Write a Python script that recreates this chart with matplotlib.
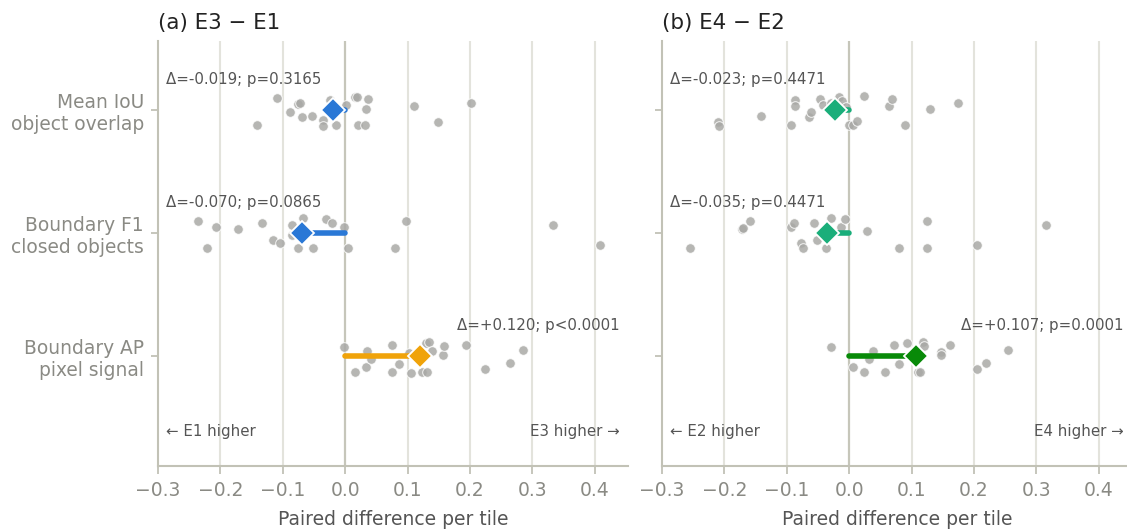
import matplotlib
matplotlib.use("Agg")
import matplotlib.pyplot as plt
import numpy as np

metrics = ["Mean IoU\nobject overlap", "Boundary F1\nclosed objects", "Boundary AP\npixel signal"]
xticks = [-0.3, -0.2, -0.1, 0.0, 0.1, 0.2, 0.3, 0.4]

# Panel (a) E3 - E1 : per-tile differences and vertical jitter offsets
a_iou = [-0.109, -0.141, -0.088, -0.076, -0.073, -0.070, -0.053, -0.035, -0.036, -0.024, -0.014,
         0.001, 0.016, 0.019, 0.037, 0.033, 0.021, 0.032, 0.111, 0.149, 0.201]
a_iou_j = [-0.095, 0.122, 0.016, -0.049, -0.057, 0.057, 0.049, 0.081, 0.130, -0.081, 0.122,
           -0.041, -0.106, -0.106, -0.089, -0.008, 0.122, 0.122, -0.033, 0.098, -0.057]
a_f1 = [-0.236, -0.221, -0.207, -0.171, -0.133, -0.115, -0.105, -0.086, -0.085, -0.076, -0.068,
        -0.051, -0.031, -0.021, -0.002, 0.004, 0.080, 0.097, 0.333, 0.408]
a_f1_j = [-0.098, 0.122, -0.049, -0.033, -0.084, 0.054, 0.081, -0.065, 0.016, 0.120, -0.122,
          0.122, -0.114, -0.084, -0.049, 0.120, 0.122, -0.098, -0.065, 0.095]
a_ap = [-0.002, 0.016, 0.034, 0.035, 0.041, 0.075, 0.075, 0.087, 0.102, 0.105, 0.123, 0.131,
        0.129, 0.135, 0.139, 0.156, 0.159, 0.194, 0.224, 0.264, 0.285]
a_ap_j = [-0.077, 0.126, 0.091, -0.037, 0.028, -0.088, 0.128, 0.063, -0.026, 0.134, 0.126, 0.126,
          -0.102, -0.112, -0.039, -0.007, -0.080, -0.088, 0.104, 0.055, -0.053]
a_delta = [-0.019, -0.070, 0.120]
a_labels = ["Δ=-0.019; p=0.3165", "Δ=-0.070; p=0.0865", "Δ=+0.120; p<0.0001"]

# Panel (b) E4 - E2
b_iou = [-0.211, -0.208, -0.141, -0.094, -0.087, -0.087, -0.064, -0.062, -0.047, -0.042, -0.029,
         -0.016, -0.012, -0.005, 0.000, 0.006, 0.012, 0.023, 0.064, 0.068, 0.090, 0.129, 0.175]
b_iou_j = [0.098, 0.130, 0.051, 0.124, -0.081, -0.035, 0.059, 0.019, -0.092, -0.041, -0.059,
           -0.106, -0.076, -0.027, 0.122, 0.122, 0.087, -0.111, -0.035, -0.092, 0.122, -0.008, -0.059]
b_f1 = [-0.255, -0.172, -0.170, -0.159, -0.094, -0.088, -0.078, -0.074, -0.057, -0.052, -0.037,
        -0.029, -0.033, -0.013, -0.007, 0.029, 0.080, 0.124, 0.125, 0.205, 0.316]
b_f1_j = [0.124, -0.033, -0.041, -0.098, -0.049, -0.084, 0.081, 0.122, -0.084, 0.054, 0.120,
          -0.120, 0.022, -0.046, -0.111, -0.014, 0.120, 0.122, -0.098, 0.095, -0.063]
b_ap = [-0.029, 0.006, 0.024, 0.031, 0.038, 0.058, 0.072, 0.079, 0.092, 0.111, 0.114, 0.119,
        0.120, 0.147, 0.147, 0.162, 0.204, 0.220, 0.255]
b_ap_j = [-0.077, 0.091, 0.126, 0.028, -0.037, 0.128, -0.088, 0.063, -0.102, 0.128, 0.126, -0.112,
          -0.083, -0.034, -0.007, -0.088, 0.104, 0.055, -0.053]
b_delta = [-0.023, -0.035, 0.107]
b_labels = ["Δ=-0.023; p=0.4471", "Δ=-0.035; p=0.4471", "Δ=+0.107; p=0.0001"]

a_colors = ["#2a78d6", "#2a78d6", "#f0a30a"]
b_colors = ["#1aae7a", "#1aae7a", "#088a08"]

panels = [
    dict(title="(a) E3 − E1", vals=[a_iou, a_f1, a_ap], jit=[a_iou_j, a_f1_j, a_ap_j],
         delta=a_delta, labels=a_labels, colors=a_colors, lo="← E1 higher", hi="E3 higher →"),
    dict(title="(b) E4 − E2", vals=[b_iou, b_f1, b_ap], jit=[b_iou_j, b_f1_j, b_ap_j],
         delta=b_delta, labels=b_labels, colors=b_colors, lo="← E2 higher", hi="E4 higher →"),
]

W, H = 1127, 529
fig = plt.figure(figsize=(W / 100, H / 100), dpi=100)
plt.rcParams['font.family'] = ['DejaVu Sans']

spine_c = "#c2c2b6"
grid_c = "#e3e3dc"
tick_c = "#8a8a84"
txt_c = "#555555"

positions = [(158, 469.7), (662, 469.7)]
top_px, bot_px = 41, 466

for k, (p, (x0, w)) in enumerate(zip(panels, positions)):
    ax = fig.add_axes([x0 / W, 1 - bot_px / H, w / W, (bot_px - top_px) / H])
    ax.set_xlim(-0.3, 0.4527)
    ax.set_ylim(2.894, -0.561)
    for xt in xticks:
        if xt == 0.0:
            ax.axvline(xt, color="#c6c6ba", lw=1.6, zorder=1)
        elif xt != -0.3:
            ax.axvline(xt, color=grid_c, lw=1.5, zorder=0)
    for i in range(3):
        yv = np.array(p["jit"][i]) + i
        ax.scatter(p["vals"][i], yv, s=48, color="#a9a9a6", alpha=0.85,
                   edgecolors="white", linewidths=0.7, zorder=2)
        d = p["delta"][i]
        c = p["colors"][i]
        ax.plot([0, d], [i, i], color=c, lw=4, solid_capstyle="round", zorder=3)
        ax.plot([d], [i], marker="D", markersize=12, color=c, markeredgecolor="white",
                markeredgewidth=1.3, zorder=4)
        if d < 0:
            ax.text(0.017, i - 0.25, p["labels"][i], transform=ax.get_yaxis_transform(),
                    ha="left", va="center", fontsize=10.8, color=txt_c)
        else:
            ax.text(0.983, i - 0.25, p["labels"][i], transform=ax.get_yaxis_transform(),
                    ha="right", va="center", fontsize=10.8, color=txt_c)
    ax.text(0.017, 2.614, p["lo"], transform=ax.get_yaxis_transform(), ha="left",
            va="center", fontsize=10.8, color=txt_c)
    ax.text(0.983, 2.614, p["hi"], transform=ax.get_yaxis_transform(), ha="right",
            va="center", fontsize=10.8, color=txt_c)

    ax.set_xticks(xticks)
    ax.set_xticklabels([f"{t:.1f}".replace("-", "−") for t in xticks])
    ax.set_yticks([0, 1, 2])
    if k == 0:
        ax.set_yticklabels(metrics, fontsize=13.4, color=tick_c, multialignment="right")
    else:
        ax.set_yticklabels([])
    ax.tick_params(axis="x", labelsize=13.5, colors=spine_c, labelcolor=tick_c, length=6, width=1.3, pad=5)
    ax.tick_params(axis="y", colors=spine_c, labelcolor=tick_c, length=5, width=1.3, pad=5)
    for s in ["top", "right"]:
        ax.spines[s].set_visible(False)
    for s in ["left", "bottom"]:
        ax.spines[s].set_color(spine_c)
        ax.spines[s].set_linewidth(1.5)
    ax.set_xlabel("Paired difference per tile", fontsize=13.5, color=txt_c, labelpad=7)
    ax.set_title(p["title"], loc="left", fontsize=15.4, color="#222222", pad=9)

fig.savefig("out.png", dpi=100)
